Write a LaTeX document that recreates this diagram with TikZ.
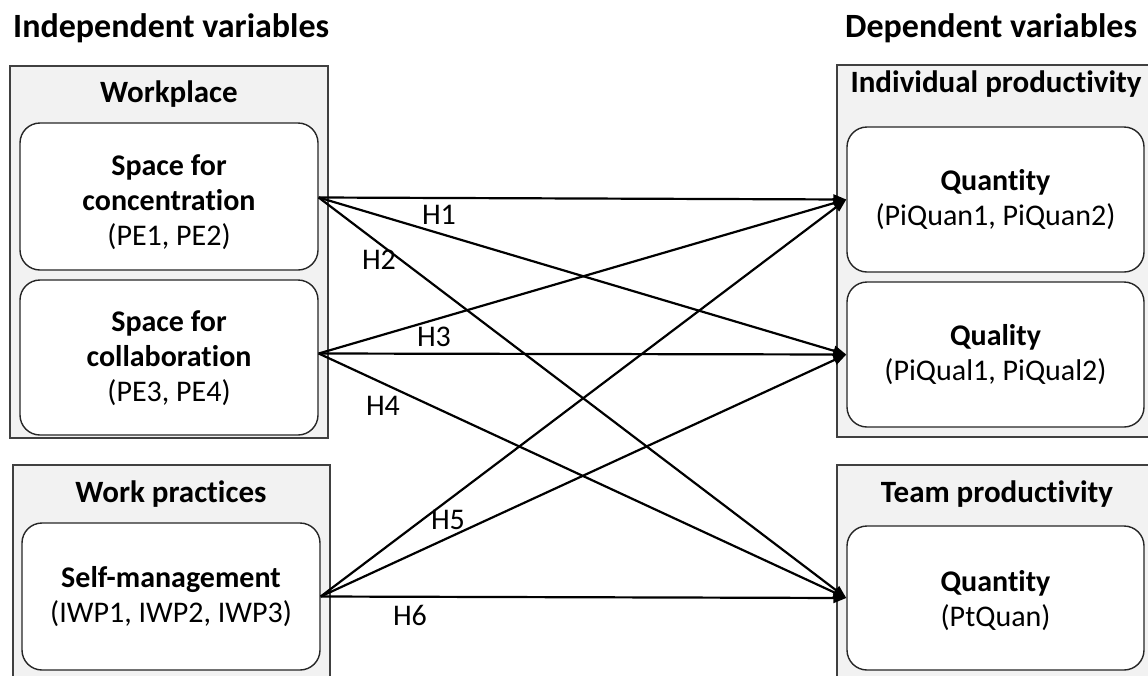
\documentclass[tikz,border=0pt]{standalone}
\usepackage{fontspec}
\setmainfont{Carlito}[Ligatures=NoCommon]
\usetikzlibrary{arrows.meta}
\newcommand\myfs{\fontsize{30}{35}\selectfont}
\newcommand\mytfs{\fontsize{31}{36}\selectfont}
\newcommand\myhfs{\fontsize{34}{40}\selectfont}
\definecolor{boxgray}{HTML}{F2F2F2}
\definecolor{edgegray}{HTML}{404040}
\begin{document}
\begin{tikzpicture}[x=1pt,y=-1pt,
  outerbox/.style={draw=edgegray,fill=boxgray,line width=1.4pt,inner sep=0pt},
  innerbox/.style={draw=black!85,fill=white,line width=1.4pt,rounded corners=20pt,
    inner sep=0pt,minimum width=298pt},
  boxtext/.style={align=center,font=\myfs,inner sep=0pt},
  grouptitle/.style={anchor=base,inner sep=0pt,font=\mytfs\bfseries},
  header/.style={anchor=base west,inner sep=0pt,font=\myhfs\bfseries},
  lbl/.style={inner sep=0pt,font=\myfs},
  link/.style={line width=2.2pt,-{Triangle[length=13pt,width=10pt]}}]
\useasboundingbox (0,0) rectangle (1148,675);
\clip (0,0) rectangle (1148,675);
\fill[white] (0,0) rectangle (1148,675);

% headers
\node[header] (hl) at (13,37) {Independent variables};
\node[header] (hr) at (845,37) {Dependent variables};

% outer boxes
\node[outerbox,minimum width=318pt,minimum height=372pt] (wp) at (169,252) {};
\node[outerbox,minimum width=317pt,minimum height=240pt] (wk) at (171.5,585) {};
\node[outerbox,minimum width=323pt,minimum height=372pt] (ip) at (998.5,251) {};
\node[outerbox,minimum width=323pt,minimum height=240pt] (tp) at (998.5,585) {};

% group titles
\node[grouptitle] (wpt) at (169,102) {Workplace};
\node[grouptitle] (wkt) at (171,502) {Work practices};
\node[grouptitle] (ipt) at (996,92) {Individual productivity};
\node[grouptitle] (tpt) at (997,502) {Team productivity};

% inner boxes
\node[innerbox,minimum height=147pt] (in1) at (169,196.5) {};
\node[innerbox,minimum height=155pt] (in2) at (169,357.5) {};
\node[innerbox,minimum height=147pt] (in3) at (171,596.5) {};
\node[innerbox,minimum width=297pt,minimum height=145pt] (out1) at (995.5,199.5) {};
\node[innerbox,minimum width=297pt,minimum height=145pt] (out2) at (995.5,354.5) {};
\node[innerbox,minimum width=297pt,minimum height=144pt] (out3) at (995.5,598) {};

% box texts
\node[boxtext] (in1t) at ([yshift=-6pt]in1.center)
  {\textbf{Space for}\\\textbf{concentration}\\(PE1, PE2)};
\node[boxtext] (in2t) at ([yshift=-1pt]in2.center)
  {\textbf{Space for}\\\textbf{collaboration}\\(PE3, PE4)};
\node[boxtext] (in3t) at (in3.center)
  {\textbf{Self-management}\\(IWP1, IWP2, IWP3)};
\node[boxtext] (out1t) at (out1.center)
  {\textbf{Quantity}\\(PiQuan1, PiQuan2)};
\node[boxtext] (out2t) at (out2.center)
  {\textbf{Quality}\\(PiQual1, PiQual2)};
\node[boxtext] (out3t) at ([yshift=-3pt]out3.center)
  {\textbf{Quantity}\\(PtQuan)};

% connectors
\draw[link] ([yshift=-1pt]in1.east) -- (out1.west);
\draw[link] ([yshift=-1pt]in1.east) -- (out2.west);
\draw[link] ([yshift=-1pt]in1.east) -- (out3.west);
\draw[link] ([yshift=4pt]in2.east) -- (out1.west);
\draw[link] ([yshift=4pt]in2.east) -- (out2.west);
\draw[link] ([yshift=4pt]in2.east) -- (out3.west);
\draw[link] (in3.east) -- (out1.west);
\draw[link] (in3.east) -- (out2.west);
\draw[link] (in3.east) -- (out3.west);

% labels
\node[lbl] (h1) at (439,215) {H1};
\node[lbl] (h2) at (379,260) {H2};
\node[lbl] (h3) at (434,337) {H3};
\node[lbl] (h4) at (383,406) {H4};
\node[lbl] (h5) at (448,520) {H5};
\node[lbl] (h6) at (410,615) {H6};
\end{tikzpicture}
\end{document}
